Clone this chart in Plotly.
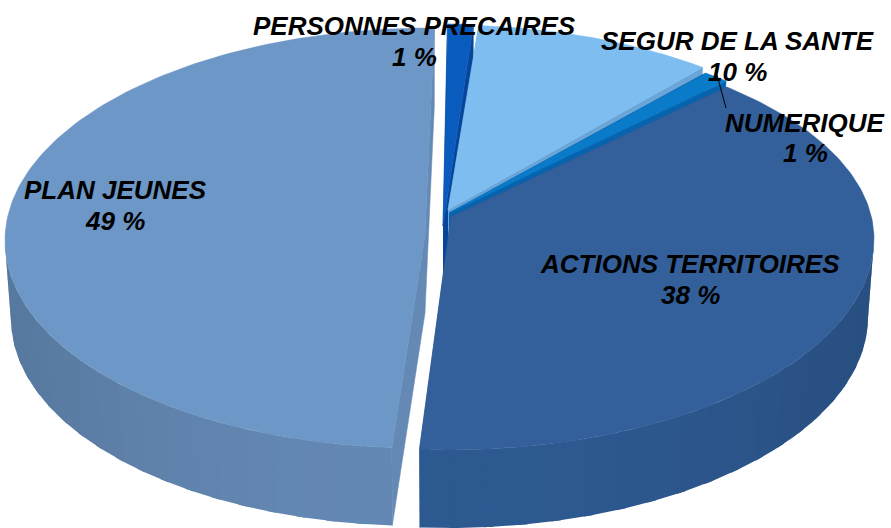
import numpy as np
import plotly.graph_objects as go

# Data (labels show rounded percentages)
categories = ["PERSONNES PRECAIRES", "SEGUR DE LA SANTE", "NUMERIQUE", "ACTIONS TERRITOIRES", "PLAN JEUNES"]
shown_percent = [1, 10, 1, 38, 49]
values = [1.0, 9.2, 1.0, 39.7, 49.1]
top_colors = ["#0A5BBE", "#7DBDF0", "#0A7BC8", "#335F9B", "#6C97C6"]
wall_colors = ["#06459A", "#6AA5D8", "#0763AE", "#2E5A92", "#6489B4"]

# 3-D look: apex x, apex y, rim centre x, rim centre y, radius x, front radius y, shear, back radius y
geometry = {
    "PERSONNES PRECAIRES": (443, 226, 443, 232, 415, 208, 0, 208),
    "SEGUR DE LA SANTE": (448, 210, 448, 232, 420, 207, 0, 207),
    "NUMERIQUE": (449, 213, 449, 232, 423, 205, 0, 200),
    "ACTIONS TERRITOIRES": (451, 217, 448, 239, 426, 211, 0, 201),
    "PLAN JEUNES": (425, 235, 425, 238, 420, 210, 5, 210),
}
DEPTH = 78
SHRINK = 6
START = 0.6
label_pos = {
    "PERSONNES PRECAIRES": (414, 26, 57),
    "SEGUR DE LA SANTE": (737, 41, 72),
    "NUMERIQUE": (805, 123, 153),
    "ACTIONS TERRITOIRES": (690, 264, 295),
    "PLAN JEUNES": (115, 190, 221),
}


def rim(phi, g, low=False):
    _, _, ex, ey, rx, ry, sh, ryb = g
    r = rx - SHRINK if low else rx
    c = np.cos(phi)
    x = ex + r * np.sin(phi) + sh * c
    y = ey - np.where(c > 0, ryb, ry) * c + (DEPTH if low else 0)
    return x, y


def mix(hexcol, k):
    r, g, b = int(hexcol[1:3], 16), int(hexcol[3:5], 16), int(hexcol[5:7], 16)
    return f"rgb({min(int(r*k),255)},{min(int(g*k),255)},{min(int(b*k),255)})"


def poly(fig, xs, ys, color, w=0.5):
    fig.add_trace(go.Scatter(x=xs, y=ys, mode="lines", fill="toself", fillcolor=color,
                             line=dict(color=color, width=w), hoverinfo="skip", showlegend=False))


fig = go.Figure()
edges = np.cumsum([0] + values) / sum(values) * 2 * np.pi + np.radians(START)
spans = {c: (edges[i], edges[i + 1]) for i, c in enumerate(categories)}

# back-to-front painting order
for i in [0, 1, 2, 4, 3]:
    c = categories[i]
    g = geometry[c]
    a0, a1 = spans[c]
    ax, ay = g[0], g[1]
    # cut walls
    for a in (a0, a1):
        px, py = rim(np.array(a), g)
        qx, qy = rim(np.array(a), g, low=True)
        poly(fig, [ax, float(px), float(qx), ax], [ay, float(py), float(qy), ay + DEPTH], wall_colors[i])
    # outer wall, shaded in overlapping strips
    lo, hi = max(a0, np.pi / 2), min(a1, 3 * np.pi / 2)
    if hi > lo:
        n = 20
        cuts = np.linspace(lo, hi, n + 1)
        order = range(n) if lo > np.pi * 0.9 else range(n - 1, -1, -1)
        for j in order:
            t = np.linspace(max(lo, cuts[j] - 0.012), min(hi, cuts[j + 1] + 0.012), 6)
            x1, y1 = rim(t, g)
            x2, y2 = rim(t[::-1], g, low=True)
            shade = 0.88 + 0.12 * np.sin((cuts[j] + cuts[j + 1]) / 2 - np.pi / 2) ** 2
            poly(fig, np.r_[x1, x2], np.r_[y1, y2], mix(wall_colors[i], shade), w=0)
    # top face
    t = np.linspace(a0, a1, 160)
    x, y = rim(t, g)
    poly(fig, np.r_[ax, x, ax], np.r_[ay, y, ay], top_colors[i])

for c, p in zip(categories, shown_percent):
    lx, y1, y2 = label_pos[c]
    for text, ly in ((c, y1), (f"{p} %", y2)):
        fig.add_annotation(x=lx, y=ly, text=f"<b><i>{text}</i></b>", showarrow=False, xanchor="center",
                           yanchor="middle", align="center",
                           font=dict(family="Liberation Sans", size=26, color="#000000"))

fig.add_shape(type="line", x0=717, y0=75, x1=726, y1=108, line=dict(color="#000000", width=1))

fig.update_xaxes(range=[0, 891], visible=False, fixedrange=True)
fig.update_yaxes(range=[528, 0], visible=False, fixedrange=True)
fig.update_layout(width=891, height=528, margin=dict(l=0, r=0, t=0, b=0), paper_bgcolor="white",
                  plot_bgcolor="white", showlegend=False)
fig.write_html("out.html", config={"displayModeBar": False},
               post_script="document.body.style.margin='0';document.body.style.overflow='hidden';")
